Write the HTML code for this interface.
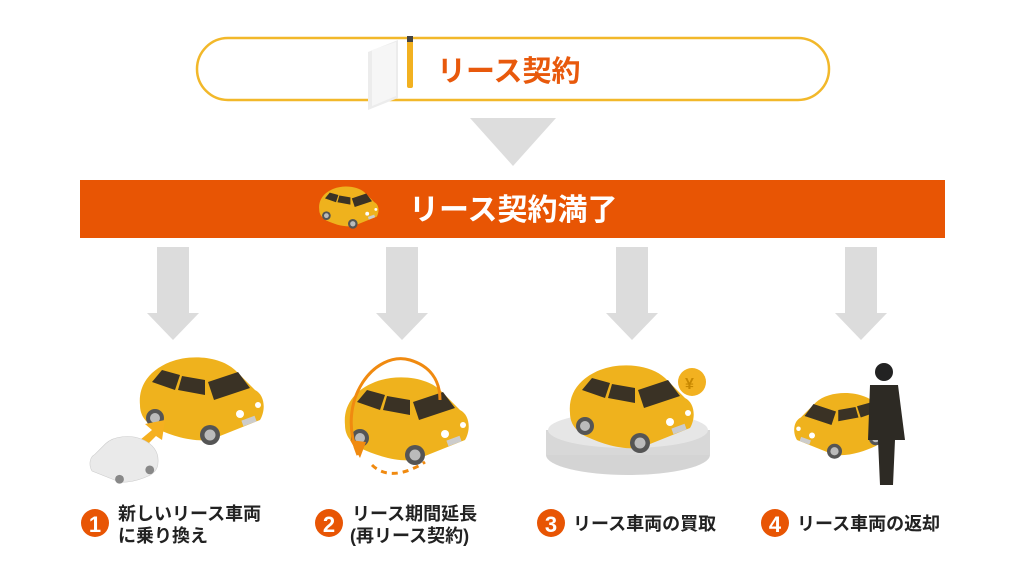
<!DOCTYPE html>
<html><head><meta charset="utf-8"><style>
html,body{margin:0;padding:0;background:#fff;width:1024px;height:575px;overflow:hidden}
svg{display:block}
text{font-family:"Liberation Sans","Noto Sans CJK JP",sans-serif;font-weight:bold}
</style></head><body>
<svg width="1024" height="575" viewBox="0 0 1024 575" xmlns="http://www.w3.org/2000/svg">
<defs>
<g id="car">
 <path d="M-60,5 C-62,-15 -50,-30 -30,-38 C-10,-46 20,-44 35,-30 L55,-10 C65,-5 66,10 60,20 L10,40 C-10,42 -30,35 -45,28 C-55,22 -60,15 -60,5Z" fill="#efb21d"/>
 <path d="M-48,-18 L-38,-30 L-20,-25 L-25,-10Z" fill="#3a3225"/>
 <path d="M-18,-24 L5,-20 L5,-5 L-22,-10Z" fill="#3a3225"/>
 <path d="M8,-18 L38,-28 L50,-12 L14,0Z" fill="#3a3225"/>
 <circle cx="-45" cy="18" r="9" fill="#555"/><circle cx="-45" cy="18" r="5" fill="#bbb"/>
 <circle cx="10" cy="35" r="10" fill="#555"/><circle cx="10" cy="35" r="5.5" fill="#bbb"/>
 <circle cx="40" cy="14" r="4" fill="#fff"/><circle cx="58" cy="5" r="3" fill="#fff"/>
 <rect x="42" y="18" width="14" height="6" fill="#ccc" transform="rotate(-20 49 21)"/>
</g>
<g id="arr"><rect x="-16" y="0" width="32" height="67" fill="#dcdcdc"/><polygon points="-26,66 26,66 0,93" fill="#dcdcdc"/></g>
</defs>

<rect x="197" y="38" width="632" height="62" rx="31" fill="#fff" stroke="#f2b82a" stroke-width="2.5"/>
<polygon points="368,52 398,40 398,98 368,110" fill="#ececec"/>
<polygon points="372,50 396,42 396,96 372,106" fill="#f6f6f6"/>
<rect x="407" y="38" width="6" height="50" rx="2" fill="#f2b120"/>
<rect x="407" y="36" width="6" height="6" fill="#444"/>
<text x="437" y="81" font-size="29" fill="#e8590c">リース契約</text>

<polygon points="470,118 556,118 513,166" fill="#dddddd"/>

<rect x="80" y="180" width="865" height="58" fill="#e85504"/>
<g transform="translate(348,207) scale(0.48)"><use href="#car"/></g>
<text x="409" y="220" font-size="30" fill="#fff">リース契約満了</text>

<use href="#arr" x="173" y="247"/>
<use href="#arr" x="402" y="247"/>
<use href="#arr" x="632" y="247"/>
<use href="#arr" x="861" y="247"/>

<!-- 1 -->
<g transform="translate(200,400) scale(1)"><use href="#car"/></g>
<polygon points="140,440 152,430 145,424 165,420 162,440 156,436 146,446" fill="#f5b020"/>
<g transform="translate(125,460) scale(-0.55,0.55)"><path d="M-60,5 C-62,-15 -50,-30 -30,-38 C-10,-46 20,-44 35,-30 L55,-10 C65,-5 66,10 60,20 L10,40 C-10,42 -30,35 -45,28 C-55,22 -60,15 -60,5Z" fill="#eaeaea" stroke="#ccc"/><circle cx="-45" cy="18" r="8" fill="#888"/><circle cx="10" cy="35" r="8" fill="#888"/></g>
<!-- 2 -->
<g transform="translate(405,420)"><use href="#car"/></g>
<path d="M358,455 C335,400 375,350 410,360 C430,366 440,380 440,400" fill="none" stroke="#f08a10" stroke-width="3"/>
<polygon points="350,440 366,442 360,458" fill="#f08a10"/>
<path d="M372,465 C385,478 405,475 425,462" fill="none" stroke="#f08a10" stroke-width="3" stroke-dasharray="6 5"/>
<!-- 3 -->
<ellipse cx="628" cy="455" rx="82" ry="20" fill="#d4d4d4"/>
<rect x="546" y="430" width="164" height="25" fill="#d8d8d8"/>
<ellipse cx="628" cy="430" rx="80" ry="18" fill="#e6e6e6"/>
<g transform="translate(630,408)"><use href="#car"/></g>
<circle cx="692" cy="382" r="14" fill="#f2b120"/><text x="685" y="389" font-size="16" fill="#c88800">¥</text>
<!-- 4 -->
<g transform="translate(842,425) scale(-0.75,0.75)"><use href="#car"/></g>
<circle cx="884" cy="372" r="9" fill="#222"/>
<path d="M870,385 L898,385 L905,440 L895,440 L893,485 L880,485 L878,440 L868,440Z" fill="#2d2a24"/>

<!-- labels -->
<circle cx="95" cy="523" r="14" fill="#e85504"/><text x="95" y="532" font-size="22" fill="#fff" text-anchor="middle" font-weight="normal">1</text>
<text x="118" y="520" font-size="18" fill="#222">新しいリース車両</text>
<text x="118" y="542" font-size="18" fill="#222">に乗り換え</text>
<circle cx="329" cy="523" r="14" fill="#e85504"/><text x="329" y="532" font-size="22" fill="#fff" text-anchor="middle" font-weight="normal">2</text>
<text x="352" y="520" font-size="18" fill="#222">リース期間延長</text>
<text x="350" y="542" font-size="18" fill="#222">(再リース契約)</text>
<circle cx="551" cy="523" r="14" fill="#e85504"/><text x="551" y="532" font-size="22" fill="#fff" text-anchor="middle" font-weight="normal">3</text>
<text x="573" y="530" font-size="18" fill="#222">リース車両の買取</text>
<circle cx="775" cy="523" r="14" fill="#e85504"/><text x="775" y="532" font-size="22" fill="#fff" text-anchor="middle" font-weight="normal">4</text>
<text x="797" y="530" font-size="18" fill="#222">リース車両の返却</text>
</svg>
</body></html>
